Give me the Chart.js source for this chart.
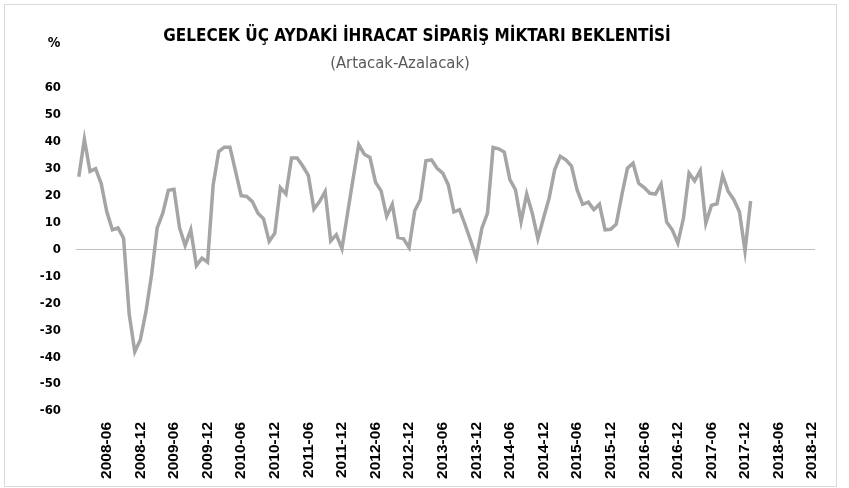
<!DOCTYPE html>
<html>
<head>
<meta charset="utf-8">
<script src="https://cdn.jsdelivr.net/npm/chart.js@4"></script>
<style>
  body { margin: 0; background: #fff; }
  #wrap { width: 849px; height: 488px; }
</style>
</head>
<body>
<div id="wrap"><canvas id="chart" width="849" height="488"></canvas></div>
<script>
const title = 'GELECEK ÜÇ AYDAKİ İHRACAT SİPARİŞ MİKTARI BEKLENTİSİ';
const subtitle = '(Artacak-Azalacak)';
const unit = '%';

const years = [2008, 2009, 2010, 2011, 2012, 2013, 2014, 2015, 2016, 2017, 2018];
const months = ['01', '02', '03', '04', '05', '06', '07', '08', '09', '10', '11', '12'];
const shownMonths = ['06', '12'];

// 2008-01 .. 2018-01
const expectation = [
  27, 41, 29, 30, 24.5, 14, 7.3, 8, 4.2, -24, -38, -33.5,
  -23, -9.4, 8, 13.5, 22, 22.4, 8, 1.5, 7.3, -6, -3.2, -4.7,
  24, 36.4, 38, 38, 29, 20, 19.7, 17.8, 13.5, 11.4, 3, 6,
  23, 20.6, 34, 34, 31, 27.5, 15, 17.8, 21.5, 3.2, 5.5, 0.3,
  13.4, 26.4, 39, 35.4, 34.2, 25, 21.8, 12.3, 16.8, 4.5, 4, 0.7,
  14.4, 18.5, 33, 33.3, 30.2, 28.4, 24, 14, 14.8, 9.2, 3.2, -3,
  7.9, 13.5, 37.9, 37.4, 36.2, 26, 22.2, 10.4, 20.6, 13.5, 4, 11.6,
  19, 29.6, 34.6, 33.3, 31, 22.2, 16.8, 17.6, 14.8, 16.8, 7.3, 7.5,
  9.4, 20.3, 30.2, 32.1, 24.6, 23, 20.9, 20.6, 24.3, 10.2, 7.3, 2.4,
  11.6, 28.4, 25.5, 29.3, 9.8, 16.4, 17, 27.5, 21.6, 18.5, 14, -0.5,
  18
];

let labels = [];
years.forEach(y => months.forEach(m => labels.push(`${y}-${m}`)));

const headerPlugin = {
  id: 'header',
  beforeDraw(chart) {
    let ctx = chart.ctx;
    ctx.save();
    ctx.fillStyle = '#fff';
    ctx.fillRect(0, 0, chart.width, chart.height);
    ctx.strokeStyle = '#d9d9d9';
    ctx.lineWidth = 1;
    ctx.strokeRect(4.5, 4.5, 832, 482);
    ctx.restore();
  },
  afterDraw(chart) {
    let ctx = chart.ctx;
    ctx.save();
    ctx.textBaseline = 'middle';
    ctx.textAlign = 'center';
    ctx.fillStyle = '#000';
    ctx.font = 'bold 17px "DejaVu Sans Condensed", "DejaVu Sans"';
    ctx.fillText(title, 417, 37);
    ctx.fillStyle = '#595959';
    ctx.font = '16.5px "DejaVu Sans Condensed", "DejaVu Sans"';
    ctx.fillText(subtitle, 400, 64);
    ctx.fillStyle = '#000';
    ctx.font = 'bold 14px "DejaVu Sans Condensed", "DejaVu Sans"';
    ctx.fillText(unit, 54, 43);
    ctx.restore();
  }
};

window.addEventListener('DOMContentLoaded', (event) => {
  let ctx = document.getElementById('chart').getContext('2d');
  let chart = new Chart(ctx, {
    type: 'line',
    data: {
      labels: labels,
      datasets: [{
        data: expectation,
        borderColor: '#a5a5a5',
        borderWidth: 3.5,
        pointRadius: 0,
        tension: 0,
        fill: false
      }]
    },
    options: {
      responsive: false,
      animation: false,
      layout: { padding: { top: 88, right: 34, left: 0, bottom: 0 } },
      plugins: { legend: { display: false }, tooltip: { enabled: false } },
      scales: {
        x: {
          offset: true,
          grid: { display: false, drawTicks: false },
          border: { display: false },
          afterFit: (scale) => { scale.height = 77; },
          ticks: {
            autoSkip: false,
            maxRotation: 90,
            minRotation: 90,
            padding: 11,
            color: '#000',
            font: { family: '"Liberation Sans", Arial', weight: 'bold', size: 15.5 },
            callback: function (value) {
              let lab = this.getLabelForValue(value);
              return shownMonths.includes(lab.slice(5)) ? lab : '';
            }
          }
        },
        y: {
          min: -60,
          max: 60,
          afterFit: (scale) => { scale.width = 76; },
          grid: {
            drawTicks: false,
            color: (c) => c.tick && c.tick.value === 0 ? '#bfbfbf' : 'rgba(0,0,0,0)',
            lineWidth: 1
          },
          border: { display: false },
          ticks: {
            stepSize: 10,
            padding: 15,
            color: '#000',
            font: { family: '"DejaVu Sans Condensed", "DejaVu Sans"', weight: 'bold', size: 13 }
          }
        }
      }
    },
    plugins: [headerPlugin]
  });
});
</script>
</body>
</html>
